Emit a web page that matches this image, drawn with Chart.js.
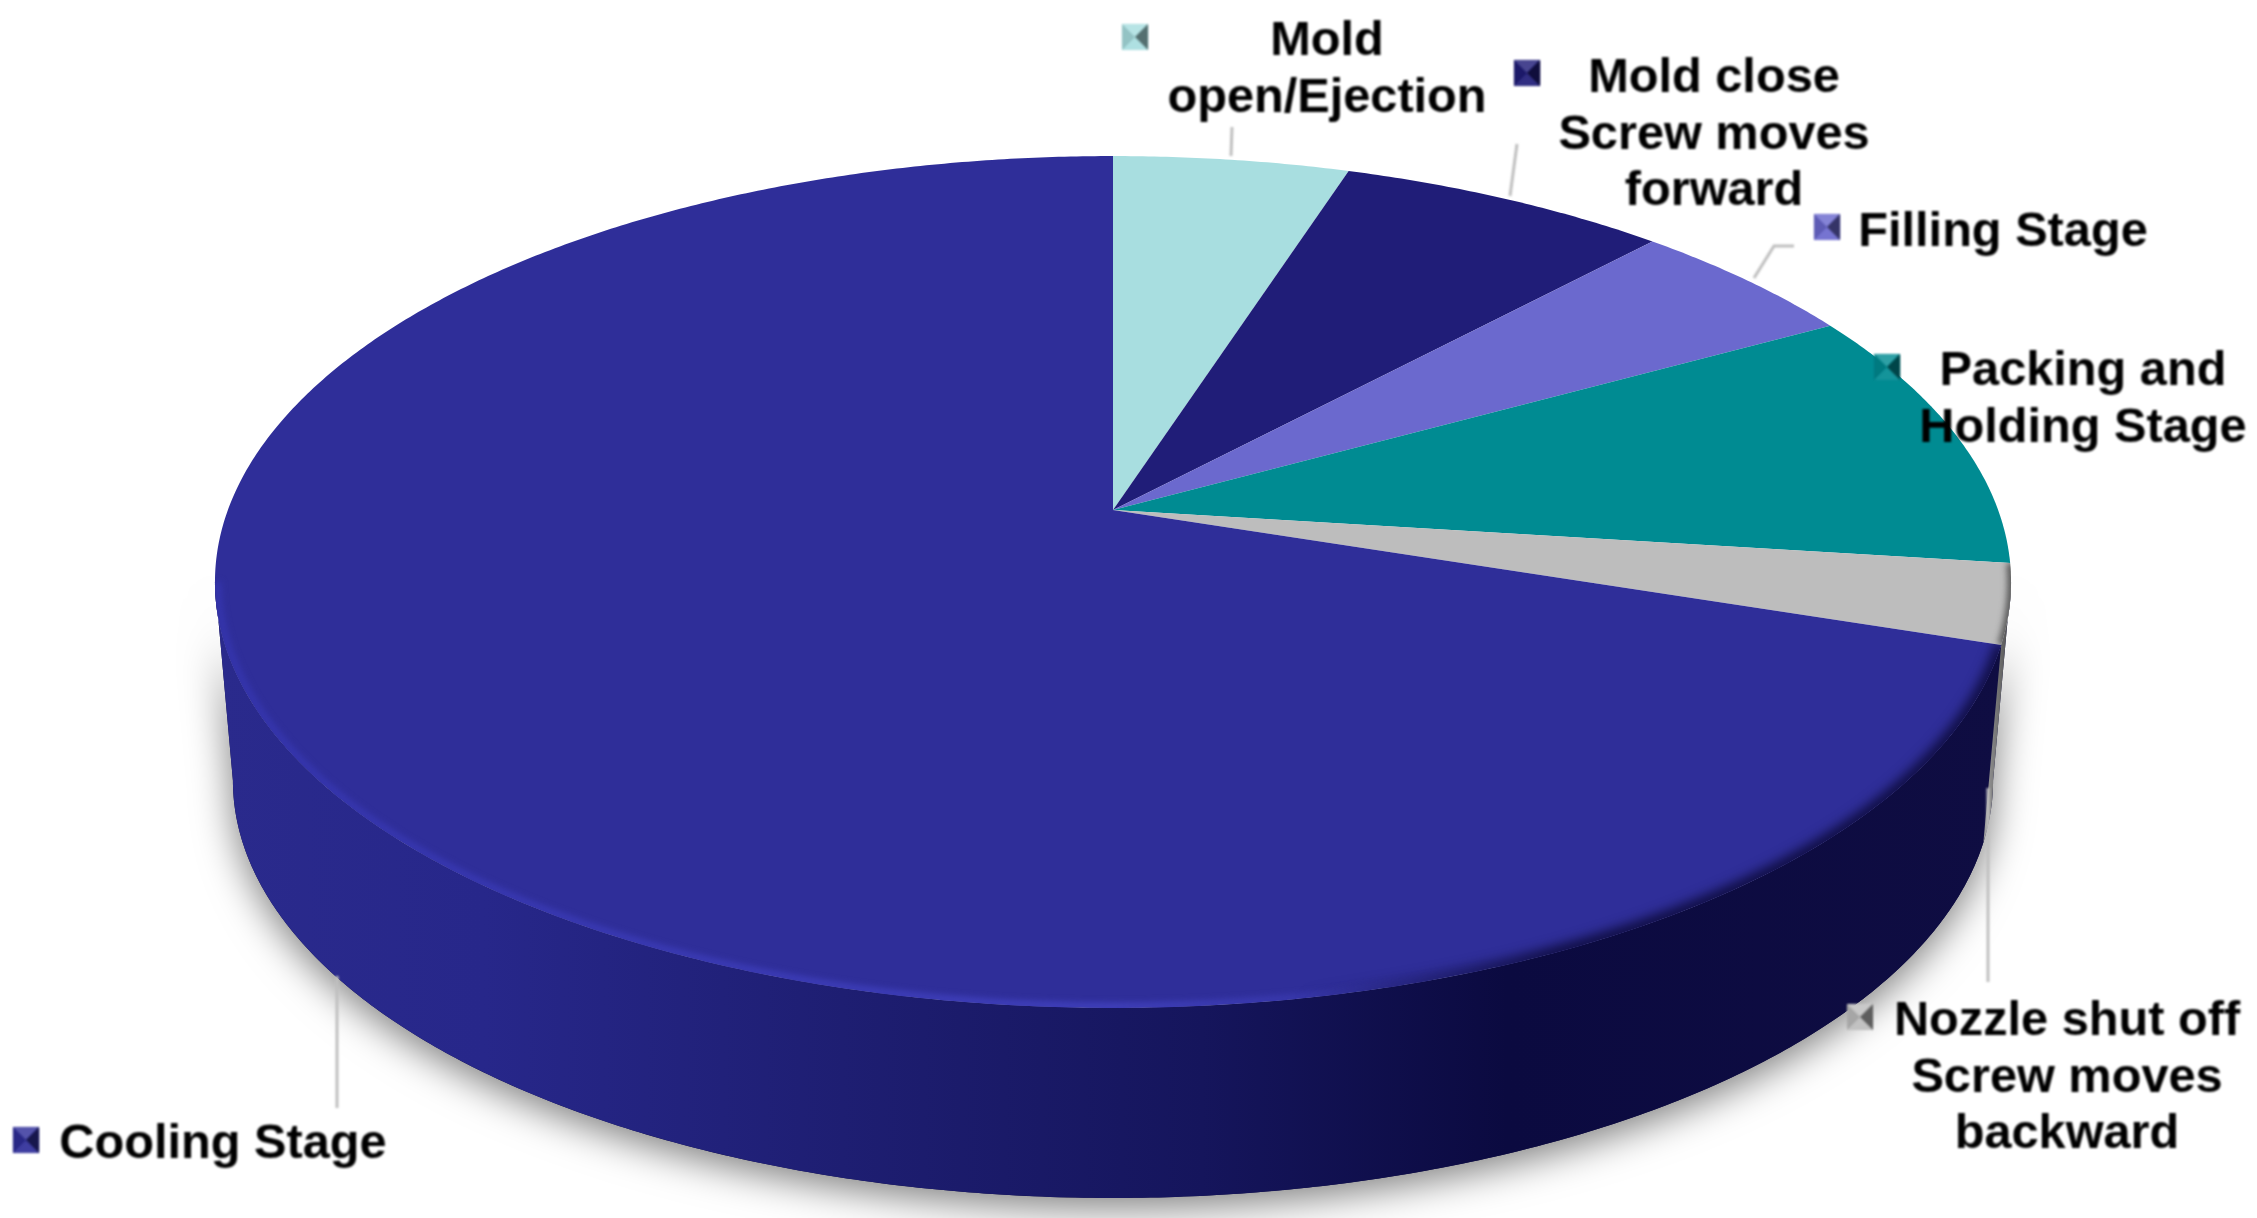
<!DOCTYPE html>
<html>
<head>
<meta charset="utf-8">
<title>Injection molding cycle</title>
<script src="https://cdn.jsdelivr.net/npm/chart.js@4"></script>
<style>
  html, body { margin: 0; padding: 0; background: #fff; }
  canvas { display: block; }
</style>
</head>
<body>
<canvas id="chartcycle" width="2257" height="1218"></canvas>
<script>
const categories = ["Mold\nopen/Ejection", "Mold close\nScrew moves\nforward", "Filling Stage", "Packing and\nHolding Stage", "Nozzle shut off\nScrew moves\nbackward", "Cooling Stage"];
const cycleShare = [5, 7, 5, 10, 3, 70];
const sliceColors = ["#A8DEE0", "#201D78", "#6B69CE", "#008B92", "#BDBDBD", "#2F2E99"];

// label centre x / first line centre y, and legend key centre
const labelX = [1327, 1714, 2003, 2083, 2067, 223];
const labelY = [42, 79, 233, 372, 1022, 1145];
const keyX = [1135, 1527, 1827, 1887, 1860, 26];
const keyY = [37, 73, 227, 367, 1017, 1140];
const leaders = [
  [[1232, 127], [1231, 156]],
  [[1517, 144], [1510, 196]],
  [[1794, 246], [1774, 246], [1754, 278]],
  [[1988, 788], [1988, 982]],
  [[337, 976], [337, 1108]]
];

// perspective of the pie disc
const persp = 0.169;
const scaleXd = 1.844;
const scaleYd = 0.862;
const wallDrop = 200;
const wallShrink = 0.98;
const lineGap = 56.5;

function proj(el, angle, shrink, drop) {
  const u = Math.cos(angle), v = Math.sin(angle);
  const w = 1 - persp * v;
  return [
    el.x + el.outerRadius * scaleXd * shrink * u / w,
    el.y + drop + el.outerRadius * scaleYd * shrink * v / w
  ];
}

function arcPoints(ctx, el, a0, a1, shrink, drop, first) {
  const steps = Math.max(2, Math.ceil(Math.abs(a1 - a0) / 0.008));
  for (let i = 0; i <= steps; i++) {
    const p = proj(el, a0 + (a1 - a0) * i / steps, shrink, drop);
    if (i === 0 && first) ctx.moveTo(p[0], p[1]); else ctx.lineTo(p[0], p[1]);
  }
}

function slicePath(ctx, el) {
  ctx.beginPath();
  ctx.moveTo(el.x, el.y);
  arcPoints(ctx, el, el.startAngle, el.endAngle, 1, 0, false);
  ctx.closePath();
}

function wallPath(ctx, el, a0, a1) {
  ctx.beginPath();
  arcPoints(ctx, el, a0, a1, 1, 0, true);
  arcPoints(ctx, el, a1, a0, wallShrink, wallDrop, false);
  ctx.closePath();
}

const pie3d = {
  id: "pie3d",
  beforeDatasetsDraw(chart) {
    const ctx = chart.ctx;
    const arcs = chart.getDatasetMeta(0).data;
    const vis0 = Math.asin(persp), vis1 = Math.PI - vis0;
    const gray = arcs[4], main = arcs[5];
    const grayFrom = Math.max(gray.startAngle, vis0);

    // ground shadow
    ctx.save();
    ctx.shadowColor = "rgba(0,0,0,0.5)";
    ctx.shadowBlur = 38;
    ctx.shadowOffsetY = 10;
    ctx.fillStyle = "#0E0C3F";
    wallPath(ctx, main, grayFrom, vis1);
    ctx.fill();
    ctx.restore();

    // side wall
    const wall = ctx.createLinearGradient(214, 0, 2011, 0);
    wall.addColorStop(0, "#2A2A8C");
    wall.addColorStop(0.15, "#27278A");
    wall.addColorStop(0.35, "#1E1E72");
    wall.addColorStop(0.55, "#15155C");
    wall.addColorStop(0.72, "#0B0A40");
    wall.addColorStop(1, "#0F0D42");
    ctx.fillStyle = wall;
    wallPath(ctx, main, main.startAngle, vis1);
    ctx.fill();
    const gwall = ctx.createLinearGradient(1985, 0, 2011, 0);
    gwall.addColorStop(0, "#9A9A9A");
    gwall.addColorStop(1, "#4A4A4A");
    ctx.fillStyle = gwall;
    wallPath(ctx, gray, grayFrom, gray.endAngle);
    ctx.fill();

    // top of the disc
    arcs.forEach(function (el, i) {
      ctx.fillStyle = sliceColors[i];
      slicePath(ctx, el);
      ctx.fill();
    });

    // bevel on the main slice, front edge only: light on the left, soft dark on the right
    ctx.save();
    slicePath(ctx, main);
    ctx.clip();
    ctx.filter = "blur(3px)";
    const light = ctx.createLinearGradient(214, 0, 1500, 0);
    light.addColorStop(0, "#3535AE");
    light.addColorStop(0.7, "#4242C0");
    light.addColorStop(1, "rgba(66,66,192,0)");
    ctx.strokeStyle = light;
    ctx.lineWidth = 7;
    ctx.beginPath();
    arcPoints(ctx, main, main.startAngle, vis1, 0.997, 0, true);
    ctx.stroke();
    ctx.filter = "blur(6px)";
    const dark = ctx.createLinearGradient(1300, 0, 1560, 0);
    dark.addColorStop(0, "rgba(14,12,63,0)");
    dark.addColorStop(1, "#0E0C3F");
    ctx.strokeStyle = dark;
    ctx.lineWidth = 14;
    ctx.beginPath();
    arcPoints(ctx, main, main.startAngle, vis1, 1.001, 0, true);
    ctx.stroke();
    ctx.restore();

    // bevel on the gray slice
    ctx.save();
    slicePath(ctx, gray);
    ctx.clip();
    ctx.filter = "blur(3px)";
    ctx.strokeStyle = "#555555";
    ctx.lineWidth = 9;
    ctx.beginPath();
    arcPoints(ctx, gray, gray.startAngle, gray.endAngle, 1.001, 0, true);
    ctx.stroke();
    ctx.restore();
    return false;
  },
  afterDraw(chart) {
    const ctx = chart.ctx;
    ctx.save();
    ctx.filter = "blur(0.8px)";

    ctx.strokeStyle = "#BFBFBF";
    ctx.lineWidth = 3;
    leaders.forEach(function (pts) {
      ctx.beginPath();
      pts.forEach(function (p, i) {
        if (i === 0) ctx.moveTo(p[0], p[1]); else ctx.lineTo(p[0], p[1]);
      });
      ctx.stroke();
    });

    categories.forEach(function (name, i) {
      drawKey(ctx, keyX[i], keyY[i], sliceColors[i]);
      ctx.fillStyle = "#000";
      ctx.font = "bold 48.7px 'Liberation Sans', Arial, sans-serif";
      ctx.textAlign = "center";
      ctx.textBaseline = "middle";
      name.split("\n").forEach(function (line, n) {
        ctx.fillText(line, labelX[i], labelY[i] + n * lineGap);
      });
    });
    ctx.restore();
  }
};

function drawKey(ctx, x, y, color) {
  const h = 13;
  ctx.fillStyle = color;
  ctx.fillRect(x - h, y - h, h * 2, h * 2);
  const faces = [
    [[x - h, y - h], [x + h, y - h], "rgba(255,255,255,0.18)"],
    [[x + h, y - h], [x + h, y + h], "rgba(0,0,0,0.5)"],
    [[x + h, y + h], [x - h, y + h], "rgba(255,255,255,0.08)"],
    [[x - h, y + h], [x - h, y - h], "rgba(0,0,0,0.12)"]
  ];
  faces.forEach(function (f) {
    ctx.fillStyle = f[2];
    ctx.beginPath();
    ctx.moveTo(f[0][0], f[0][1]);
    ctx.lineTo(f[1][0], f[1][1]);
    ctx.lineTo(x, y);
    ctx.closePath();
    ctx.fill();
  });
}

var ctx_chart = document.getElementById("chartcycle").getContext("2d");
var chart = new Chart(ctx_chart, {
  type: "pie",
  data: {
    labels: categories,
    datasets: [{
      data: cycleShare,
      backgroundColor: sliceColors,
      borderWidth: 0
    }]
  },
  plugins: [pie3d],
  options: {
    responsive: false,
    animation: false,
    layout: { padding: { left: 0, right: 31, top: 30, bottom: 228 } },
    plugins: {
      legend: { display: false },
      tooltip: { enabled: false }
    }
  }
});
</script>
</body>
</html>
